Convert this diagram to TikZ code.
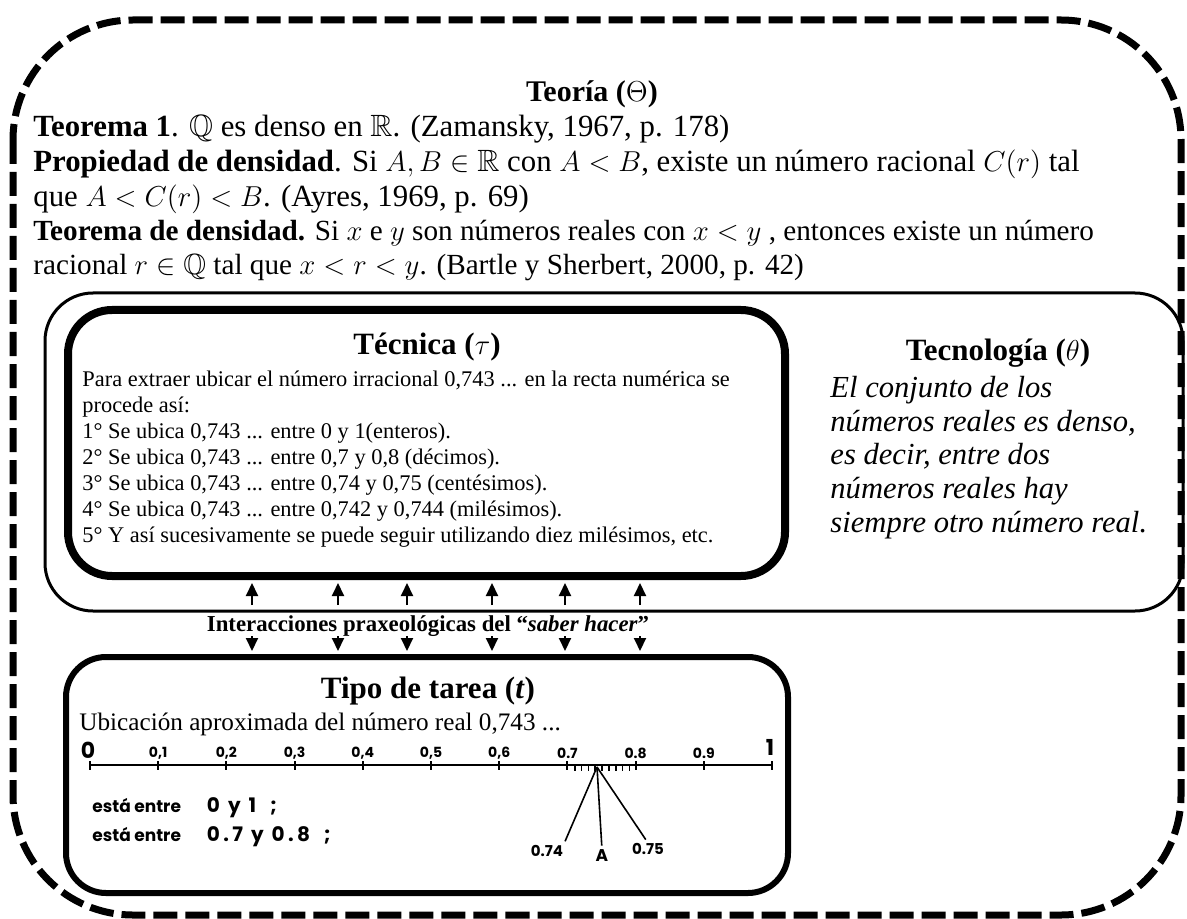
\documentclass[tikz,border=0pt]{standalone}
\usepackage{fontspec}
\setmainfont{Liberation Serif}
\newfontfamily\rulerfont{Poppins}
\usepackage{amsmath,amssymb}
\usepackage{tikz}
\usetikzlibrary{arrows.meta,positioning,calc}

\newcommand{\fsz}[2]{\fontsize{#1}{#2}\selectfont}

\begin{document}
\begin{tikzpicture}[x=0.5pt,y=-0.5pt,
    outerbox/.style={draw,line width=3.5pt,dash pattern=on 12pt off 4pt,rounded corners=60pt},
    techbox/.style={draw,line width=1.5pt,rounded corners=24pt,inner sep=0pt},
    thickbox/.style={draw,line width=4pt,rounded corners=22pt,inner sep=0pt},
    taskbox/.style={draw,line width=3pt,rounded corners=20pt,inner sep=0pt},
    txt/.style={inner sep=0pt,align=left},
    ttl/.style={inner sep=0pt,font=\bfseries\fsz{15.5}{17}},
    praxarrow/.style={-{Triangle[width=6pt,length=6.5pt]},line width=1pt,shorten >=1.5pt},
    rlab/.style={inner sep=0pt,font=\rulerfont\bfseries\fsz{7}{8}},
    entre/.style={txt,anchor=west,font=\rulerfont\bfseries\fsz{8.5}{10}}]

  \useasboundingbox (0,0) rectangle (1187,919);

  % outer dashed frame
  \draw[outerbox] (13,20) rectangle (1181,915);

  % boxes
  \node[techbox,minimum width=569pt,minimum height=159pt] (tecno) at (614,452) {};
  \node[thickbox,minimum width=358.5pt,minimum height=133pt] (tecnica) at (426.5,443) {};
  \node[taskbox,minimum width=361pt,minimum height=118pt] (tipo) at (427,775) {};

  % teoria
  \node[ttl,font=\bfseries\fsz{15}{17}] (teoriaT) at (592,94) {Teoría ($\Theta$)};
  \node[txt,anchor=north west,font=\fsz{15.4}{17.4}] (teoriaA) at (33,115)
    {\textbf{Teorema 1}. $\mathbb{Q}$ es denso en $\mathbb{R}$. (Zamansky, 1967, p. 178)\\
     \textbf{Propiedad de densidad}. Si $A, B \in \mathbb{R}$ con $A < B$, existe un número racional $C(r)$ tal\\
     que $A < C(r) < B$. (Ayres, 1969, p. 69)};
  \node[txt,anchor=north west,font=\fsz{14.6}{16.8}] (teoriaB) at (33,220)
    {\textbf{Teorema de densidad.} Si $x$ e $y$ son números reales con $x < y$ , entonces existe un número\\
     racional $r \in \mathbb{Q}$ tal que $x < r < y$. (Bartle y Sherbert, 2000, p. 42)};

  % tecnica
  \node[ttl] (tecnicaT) at (427,347) {Técnica ($\tau$)};
  \node[txt,anchor=north west,font=\fsz{11.2}{13}] (tecnicaB) at (82,371)
    {Para extraer ubicar el número irracional 0,743 ... en la recta numérica se\\
     procede así:\\
     1° Se ubica 0,743 ... entre 0 y 1(enteros).\\
     2° Se ubica 0,743 ... entre 0,7 y 0,8 (décimos).\\
     3° Se ubica 0,743 ... entre 0,74 y 0,75 (centésimos).\\
     4° Se ubica 0,743 ... entre 0,742 y 0,744 (milésimos).\\
     5° Y así sucesivamente se puede seguir utilizando diez milésimos, etc.};

  % tecnologia
  \node[ttl] (tecnoT) at (998,353) {Tecnología ($\theta$)};
  \node[txt,anchor=north west,font=\itshape\fsz{15.3}{16.8}] (tecnoB) at (830,376)
    {El conjunto de los\\números reales es denso,\\es decir, entre dos\\números reales hay\\siempre otro número real.};

  % interacciones
  \node[inner sep=0pt,font=\bfseries\fsz{11.4}{13}] (inter) at (428,626)
    {Interacciones praxeológicas del “\textit{saber hacer}”};
  \foreach \x [count=\i] in {252,338,407,492,565,640} {
    \coordinate (up\i) at (\x,605);
    \coordinate (dn\i) at (\x,636);
    \draw[praxarrow] (up\i) -- (up\i |- tecnica.south);
    \draw[praxarrow] (dn\i) -- (dn\i |- tipo.north);
  }

  % tipo de tarea
  \node[ttl] (tipoT) at (428,691) {Tipo de tarea (\textit{t})};
  \node[txt,anchor=west,font=\fsz{12.6}{14}] (ubic) at (79,724)
    {Ubicación aproximada del número real 0,743 ...};

  % number line
  \draw[line width=1pt] (90,765) -- (772,765);
  \foreach \k in {0,...,10} \draw[line width=1pt] (90+68.2*\k,761) -- (90+68.2*\k,770);
  \foreach \k in {1,...,9} \draw[line width=0.8pt] (568+6.82*\k,765) -- (568+6.82*\k,771);
  \foreach \k/\lab in {1/0{,}1,2/0{,}2,3/0{,}3,4/0{,}4,5/0{,}5,6/0{,}6,7/0.7,8/0.8,9/0.9}
    \node[rlab] (t\k) at (90+68.2*\k,753) {\lab};
  \node[rlab,font=\rulerfont\bfseries\fsz{11}{12}] (r0) at (88,750) {0};
  \node[rlab,font=\rulerfont\bfseries\fsz{11}{12}] (r1) at (770,747) {1};

  \coordinate (ptA) at (597,767);
  \node[rlab,font=\rulerfont\bfseries\fsz{7.5}{8}] (l74) at (547,851) {0.74};
  \node[rlab,font=\rulerfont\bfseries\fsz{8.5}{9}] (lA) at (602,856) {A};
  \node[rlab,font=\rulerfont\bfseries\fsz{7.5}{8}] (l75) at (648,849) {0.75};
  \draw[line width=0.8pt,shorten >=2pt] (ptA) -- (l74.north east);
  \draw[line width=0.8pt,shorten >=2pt] (ptA) -- (lA.north);
  \draw[line width=0.8pt,shorten >=2pt] (ptA) -- (l75.north);

  \node[entre] (entre1) at (92,808)
    {está entre\hspace{13pt}{\fsz{10}{12}0\hspace{4pt}y\hspace{4pt}1\hspace{7pt};}};
  \node[entre] (entre2) at (92,837)
    {está entre\hspace{13pt}{\fsz{10}{12}0\,.\,7\hspace{4pt}y\hspace{4pt}0\,.\,8\hspace{7pt};}};
\end{tikzpicture}
\end{document}
